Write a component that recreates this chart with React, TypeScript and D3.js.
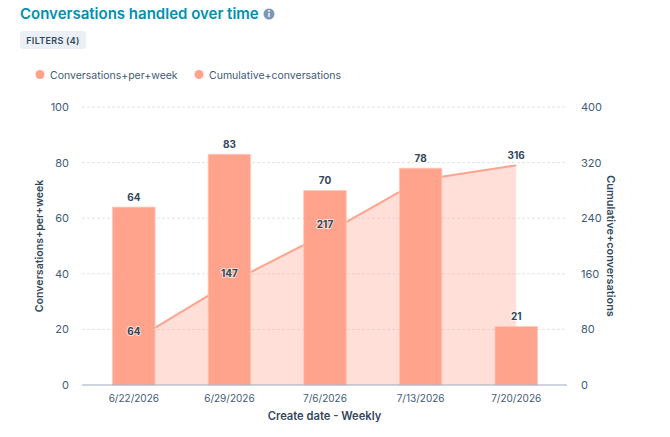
import React, { useEffect, useRef } from 'react';
import * as d3 from 'd3';

const weeks = ['6/22/2026', '6/29/2026', '7/6/2026', '7/13/2026', '7/20/2026'];
const perWeek = [64, 83, 70, 78, 21];
const cumulative = [64, 147, 217, 295, 316];
const cumulativeLabels = [64, 147, 217, null, 316];
const leftTicks = [0, 20, 40, 60, 80, 100];
const rightTicks = [0, 80, 160, 240, 320, 400];
const legendItems = ['Conversations+per+week', 'Cumulative+conversations'];

const FONT = 'Inter, "Noto Sans", sans-serif';
const DARK = '#33475b';
const MUTED = '#425b76';
const BAR = '#ffa38c';

export default function App() {
  const svgRef = useRef<SVGSVGElement>(null);

  useEffect(() => {
    if (!svgRef.current) return;
    const svg = d3.select(svgRef.current);
    svg.selectAll('*').remove();
    svg.style('font-family', FONT);

    const x = d3.scaleBand<string>().domain(weeks).range([86, 564]).paddingInner(0.555).paddingOuter(0.2775);
    const yLeft = d3.scaleLinear().domain([0, 100]).range([385, 107]);
    const yRight = d3.scaleLinear().domain([0, 400]).range([385, 107]);
    const cx = (w: string) => x(w)! + x.bandwidth() / 2;

    // Title and filter pill
    svg.append('text').attr('x', 20).attr('y', 19).attr('fill', '#0091ae')
      .attr('font-size', 15).attr('font-weight', 600).text('Conversations handled over time');
    svg.append('circle').attr('cx', 269).attr('cy', 14).attr('r', 5.5).attr('fill', '#7c98b6');
    svg.append('rect').attr('x', 268.3).attr('y', 13).attr('width', 1.4).attr('height', 4).attr('fill', '#fff');
    svg.append('circle').attr('cx', 269).attr('cy', 11).attr('r', 0.9).attr('fill', '#fff');
    svg.append('rect').attr('x', 20).attr('y', 31).attr('width', 66).attr('height', 18).attr('rx', 3).attr('fill', '#eaf0f6');
    svg.append('text').attr('x', 53).attr('y', 43.5).attr('text-anchor', 'middle').attr('fill', DARK)
      .attr('font-size', 9).attr('font-weight', 600).attr('letter-spacing', 0.3).text('FILTERS (4)');

    // Legend
    const legendX = [40, 199];
    legendItems.forEach((label, i) => {
      svg.append('circle').attr('cx', legendX[i]).attr('cy', 74.5).attr('r', 4.5).attr('fill', BAR);
      svg.append('text').attr('x', legendX[i] + 10).attr('y', 78.5).attr('fill', MUTED)
        .attr('font-size', 10.5).text(label);
    });

    // Grid
    leftTicks.filter((t) => t > 0).forEach((t) => {
      svg.append('line').attr('x1', 82).attr('x2', 567).attr('y1', yLeft(t)).attr('y2', yLeft(t))
        .attr('stroke', '#dfe3eb').attr('stroke-dasharray', '3,2');
    });

    // Cumulative area and line sit behind the bars
    const area = d3.area<number>().x((_, i) => cx(weeks[i])).y0(yRight(0)).y1((d) => yRight(d));
    const line = d3.line<number>().x((_, i) => cx(weeks[i])).y((d) => yRight(d));
    svg.append('path').attr('d', area(cumulative)).attr('fill', BAR).attr('fill-opacity', 0.35);
    svg.append('path').attr('d', line(cumulative)).attr('fill', 'none').attr('stroke', BAR).attr('stroke-width', 2);

    // Bars
    svg.selectAll('.bar').data(perWeek).enter().append('rect').attr('class', 'bar')
      .attr('x', (_, i) => x(weeks[i])!)
      .attr('y', (d) => yLeft(d))
      .attr('width', x.bandwidth())
      .attr('height', (d) => yLeft(0) - yLeft(d))
      .attr('fill', BAR)
      .attr('stroke', '#ffc9bb')
      .attr('stroke-width', 0.8);

    // Baseline
    svg.append('line').attr('x1', 82).attr('x2', 567).attr('y1', 385).attr('y2', 385)
      .attr('stroke', '#99acc2').attr('stroke-width', 1.2);

    // Axis tick labels
    leftTicks.forEach((t) => {
      svg.append('text').attr('x', 69).attr('y', yLeft(t) + 4).attr('text-anchor', 'end')
        .attr('fill', MUTED).attr('font-size', 11).text(t);
    });
    rightTicks.forEach((t) => {
      svg.append('text').attr('x', 581).attr('y', yRight(t) + 4)
        .attr('fill', MUTED).attr('font-size', 11).text(t);
    });
    weeks.forEach((w) => {
      svg.append('text').attr('x', cx(w)).attr('y', 402).attr('text-anchor', 'middle')
        .attr('fill', MUTED).attr('font-size', 10).text(w);
    });

    // Axis titles
    svg.append('text').attr('x', 324.5).attr('y', 420).attr('text-anchor', 'middle').attr('fill', DARK)
      .attr('font-size', 11.2).attr('font-weight', 600).text('Create date - Weekly');
    svg.append('text').attr('transform', 'translate(43,246) rotate(-90)').attr('text-anchor', 'middle')
      .attr('fill', DARK).attr('font-size', 10.6).attr('font-weight', 600).text(legendItems[0]);
    svg.append('text').attr('transform', 'translate(607,246) rotate(90)').attr('text-anchor', 'middle')
      .attr('fill', DARK).attr('font-size', 10.9).attr('font-weight', 600).text(legendItems[1]);

    // Value labels
    const valueLabel = (px: number, py: number, s: number) => {
      svg.append('text').attr('x', px).attr('y', py).attr('text-anchor', 'middle').attr('fill', DARK)
        .attr('font-size', 10).attr('font-weight', 700)
        .attr('stroke', '#fff').attr('stroke-width', 2).attr('stroke-opacity', 0.6).attr('paint-order', 'stroke')
        .text(s);
    };
    weeks.forEach((w, i) => valueLabel(cx(w), yLeft(perWeek[i]) - 6.5, perWeek[i]));
    weeks.forEach((w, i) => {
      const v = cumulativeLabels[i];
      if (v !== null) valueLabel(cx(w), yRight(v) - 6, v);
    });
  }, []);

  return (
    <svg
      ref={svgRef}
      width={670}
      height={437}
      style={{ position: 'absolute', left: 0, top: 0, background: '#fff' }}
    />
  );
}
